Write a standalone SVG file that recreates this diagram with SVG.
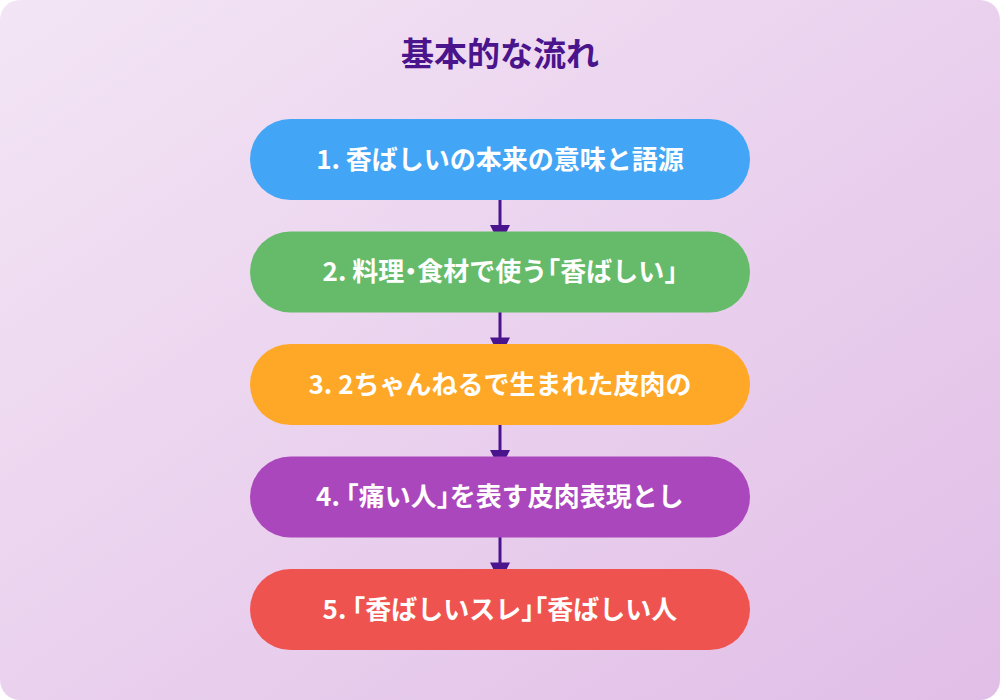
<svg xmlns="http://www.w3.org/2000/svg" width="1000" height="700" viewBox="0 0 1000 700">
<defs>
<linearGradient id="bg" x1="0" y1="0" x2="1" y2="1">
<stop offset="0" stop-color="#f3e5f5"/>
<stop offset="1" stop-color="#e1bee7"/>
</linearGradient>
<style>
.title{font-family:"Noto Sans CJK JP","Noto Sans",sans-serif;font-weight:700;font-size:33px;fill:#4a148c;text-anchor:middle}
.label{font-family:"Noto Sans CJK JP","Noto Sans",sans-serif;font-weight:700;font-size:26px;fill:#ffffff;text-anchor:middle}
.p{font-feature-settings:"halt"}
.conn line{stroke:#4a148c;stroke-width:3}
.conn polygon{fill:#4a148c}
</style>
</defs>
<rect x="0" y="0" width="1000" height="700" rx="20" ry="20" fill="url(#bg)"/>
<text class="title" x="500" y="66">基本的な流れ</text>
<g id="connectors" class="conn">
<line x1="500" y1="199" x2="500" y2="228"/><polygon points="490,225 510,225 500,245"/>
<line x1="500" y1="311.5" x2="500" y2="340.5"/><polygon points="490,337.5 510,337.5 500,357.5"/>
<line x1="500" y1="424" x2="500" y2="453"/><polygon points="490,450 510,450 500,470"/>
<line x1="500" y1="536.5" x2="500" y2="565.5"/><polygon points="490,562.5 510,562.5 500,582.5"/>
</g>
<g id="node1"><rect x="250" y="119" width="500" height="81" rx="40.5" fill="#42a5f5"/><text class="label" x="500" y="168.5">1. 香ばしいの本来の意味と語源</text></g>
<g id="node2"><rect x="250" y="231.5" width="500" height="81" rx="40.5" fill="#66bb6a"/><text class="label" x="500" y="281">2. 料理<tspan class="p">・</tspan>食材で使う<tspan class="p">「</tspan>香ばしい<tspan class="p">」</tspan></text></g>
<g id="node3"><rect x="250" y="344" width="500" height="81" rx="40.5" fill="#ffa726"/><text class="label" x="500" y="393.5">3. 2ちゃんねるで生まれた皮肉の</text></g>
<g id="node4"><rect x="250" y="456.5" width="500" height="81" rx="40.5" fill="#ab47bc"/><text class="label" x="500" y="506">4. <tspan class="p">「</tspan>痛い人<tspan class="p">」</tspan>を表す皮肉表現とし</text></g>
<g id="node5"><rect x="250" y="569" width="500" height="81" rx="40.5" fill="#ef5350"/><text class="label" x="500" y="618.5">5. <tspan class="p">「</tspan>香ばしいスレ<tspan class="p">」「</tspan>香ばしい人</text></g>
</svg>
